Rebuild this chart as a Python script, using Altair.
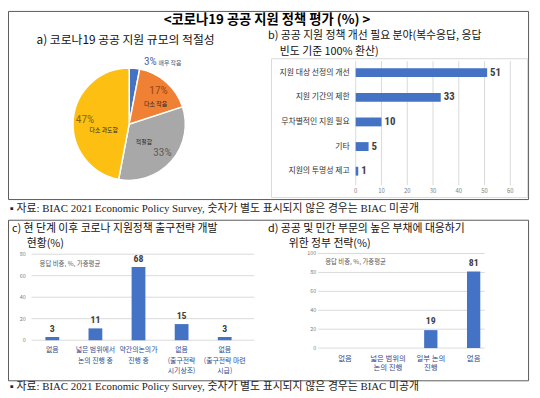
import altair as alt
import pandas as pd

FONT = "Noto Sans CJK KR"
NUM = "Liberation Sans Narrow, Roboto Condensed, DejaVu Sans Condensed, Noto Sans CJK KR"
SERIF = "Liberation Serif, Noto Sans CJK KR"

# ---------------- texts ----------------
title_text = "<코로나19 공공 지원 정책 평가 (%) >"
a_title = "a) 코로나19 공공 지원 규모의 적절성"
b_title = ["b) 공공 지원 정책 개선 필요 분야(복수응답, 응답", "빈도 기준 100% 환산)"]
c_title = ["c) 현 단계 이후 코로나 지원정책 출구전략 개발", "현황(%)"]
d_title = ["d) 공공 및 민간 부문의 높은 부채에 대응하기", "위한 정부 전략(%)"]
note_text = "▪ 자료: BIAC 2021 Economic Policy Survey, 숫자가 별도 표시되지 않은 경우는 BIAC 미공개"
sub_note = "응답 비중, %, 가중평균"

# ---------------- data ----------------
a_cats = ["매우 작음", "다소 작음", "적절함", "다소 과도함"]
a_vals = [3, 17, 33, 47]
a_colors = ["#4472C4", "#EF8034", "#A8A8A8", "#FDBF12"]
a_label_colors = ["#4A66A8", "#9A4814", "#5E5E5E", "#8A680A"]

b_cats = ["지원 대상 선정의 개선", "지원 기간의 제한", "무차별적인 지원 필요", "기타", "지원의 투명성 제고"]
b_vals = [51, 33, 10, 5, 1]
b_ticks = [0, 10, 20, 30, 40, 50, 60]

c_cats = ["없음", "넓은 범위에서\n논의 진행 중", "약간의논의가\n진행 중",
          "없음\n(출구전략\n시기상조)", "없음\n(출구전략 마련\n시급)"]
c_vals = [3, 11, 68, 15, 3]
c_ticks = [0, 20, 40, 60, 80]

d_cats = ["없음", "넓은 범위의\n논의 진행", "일부 논의\n진행", "없음"]
d_vals = [None, None, 19, 81]
d_ticks = [0, 20, 40, 60, 80, 100]

BLUE = "#4472C4"
GRID = "#D9D9D9"
TICK = "#808080"
FRAME = "#5A5A5A"
CATC = "#2F4B8A"

ONE = pd.DataFrame({"z": [0]})
layers = []


def txt(s, x, y, size, color="#111111", font=FONT, weight="normal", align="left"):
    return alt.Chart(ONE).mark_text(
        text=s, align=align, baseline="middle", font=font, fontSize=size,
        fontWeight=weight, color=color
    ).encode(x=alt.value(x), y=alt.value(y))


def frame(x1, y1, x2, y2, color, width=1):
    return alt.Chart(ONE).mark_rect(fillOpacity=0, stroke=color, strokeWidth=width).encode(
        x=alt.value(x1), x2=alt.value(x2), y=alt.value(y1), y2=alt.value(y2))


# ---------------- frames & titles ----------------
layers.append(frame(0.5, 0.5, 528.5, 191.5, FRAME))
layers.append(frame(267.5, 48.5, 527.5, 189.5, GRID))
layers.append(frame(0.5, 212.5, 528.5, 375.5, FRAME))

layers.append(txt(title_text, 263, 9, 13.5, color="#000000", weight="bold", align="center"))
layers.append(txt(a_title, 29, 30, 12))
layers.append(txt(b_title[0], 264, 25.5, 11))
layers.append(txt(b_title[1], 276, 41.5, 11))
layers.append(txt(c_title[0], 4, 221, 11))
layers.append(txt(c_title[1], 19, 237, 11))
layers.append(txt(d_title[0], 264, 221, 11))
layers.append(txt(d_title[1], 285, 237, 11))
layers.append(txt(note_text, 2, 201, 11, color="#222222", font=SERIF))
layers.append(txt(note_text, 2, 382, 11, color="#222222", font=SERIF))
layers.append(txt(sub_note, 32, 257, 6.5, color="#595959"))
layers.append(txt(sub_note, 322, 255, 6.5, color="#595959"))

# ---------------- panel a : pie ----------------
CX, CY, R = 123, 115, 57
a_df = pd.DataFrame({"i": list(range(len(a_cats))), "cat": a_cats, "v": a_vals})
theta = alt.Theta("v:Q", stack=True)
order = alt.Order("i:Q")
a_color = alt.Color("cat:N", scale=alt.Scale(domain=a_cats, range=a_colors), legend=None)
a_lcolor = alt.Color("cat:N", scale=alt.Scale(domain=a_cats, range=a_label_colors), legend=None)

layers.append(alt.Chart(a_df).mark_arc(outerRadius=R, stroke="white", strokeWidth=1.5).encode(
    theta=theta, order=order, color=a_color, x=alt.value(CX), y=alt.value(CY)))

# percent labels (slices 1..3)
layers.append(alt.Chart(a_df).transform_calculate(lbl="datum.v + '%'").mark_text(
    radius=45, font=NUM, fontSize=11.5).encode(
    theta=theta, order=order, color=a_lcolor, x=alt.value(CX), y=alt.value(CY),
    text=alt.condition("datum.i > 0", alt.Text("lbl:N"), alt.value(""))))

# category labels inside slices
offsets = {1: (7, 2.5), 2: (-7.5, -2), 3: (4, 8.5)}
for i, (ddx, ddy) in offsets.items():
    layers.append(alt.Chart(a_df).mark_text(
        radius=30, dx=ddx, dy=ddy, font=FONT, fontSize=6, color="#262626").encode(
        theta=theta, order=order, detail="cat:N", x=alt.value(CX), y=alt.value(CY),
        text=alt.condition(f"datum.i == {i}", alt.Text("cat:N"), alt.value(""))))

# small slice label outside
layers.append(alt.Chart(a_df).transform_calculate(lbl="datum.v + '%'").mark_text(
    radius=63, dx=15.5, font=NUM, fontSize=11.5).encode(
    theta=theta, order=order, color=a_lcolor, x=alt.value(CX), y=alt.value(CY),
    text=alt.condition("datum.i == 0", alt.Text("lbl:N"), alt.value(""))))
layers.append(alt.Chart(a_df).mark_text(
    radius=63, dx=35.5, dy=1, font=FONT, fontSize=6, color="#44546A").encode(
    theta=theta, order=order, detail="cat:N", x=alt.value(CX), y=alt.value(CY),
    text=alt.condition("datum.i == 0", alt.Text("cat:N"), alt.value(""))))

# ---------------- panel b : horizontal bars ----------------
b_df = pd.DataFrame({"k": list(range(len(b_cats))), "cat": b_cats, "v": b_vals})
bt_df = pd.DataFrame({"t": b_ticks})
bx = alt.Scale(domain=[0, 60], range=[353, 510])
by = alt.Scale(domain=list(range(len(b_cats))), range=[50.2, 175.2], paddingInner=0, paddingOuter=0)

layers.append(alt.Chart(bt_df).mark_rule(color=GRID, strokeWidth=1).encode(
    x=alt.X("t:Q", scale=bx, axis=None), y=alt.value(51), y2=alt.value(177)))
layers.append(alt.Chart(bt_df).mark_text(fontSize=6, color=TICK, baseline="middle", font=FONT).encode(
    x=alt.X("t:Q", scale=bx, axis=None), y=alt.value(183), text="t:Q"))
layers.append(alt.Chart(b_df).mark_bar(height=9, color=BLUE).encode(
    x=alt.X("v:Q", scale=bx, axis=None), y=alt.Y("k:O", scale=by, axis=None)))
layers.append(alt.Chart(b_df).mark_text(align="left", dx=3, font=NUM, fontWeight="bold",
                                        fontSize=11, color="#404040").encode(
    x=alt.X("v:Q", scale=bx, axis=None), y=alt.Y("k:O", scale=by, axis=None), text="v:Q"))
layers.append(alt.Chart(b_df).mark_text(align="right", font=FONT, fontSize=8, color="#333333").encode(
    x=alt.value(347), y=alt.Y("k:O", scale=by, axis=None), text="cat:N"))

# ---------------- panel c : vertical bars ----------------
c_df = pd.DataFrame({"k": list(range(len(c_cats))), "cat": c_cats, "v": c_vals})
ct_df = pd.DataFrame({"t": c_ticks})
cy = alt.Scale(domain=[0, 80], range=[334.3, 247])
cx = alt.Scale(domain=list(range(len(c_cats))), range=[23.1, 241.9], paddingInner=0, paddingOuter=0)

layers.append(alt.Chart(ct_df).mark_rule(color=GRID, strokeWidth=1).encode(
    y=alt.Y("t:Q", scale=cy, axis=None), x=alt.value(24), x2=alt.value(250)))
layers.append(alt.Chart(ct_df).mark_text(fontSize=5.5, color=TICK, align="right", baseline="middle",
                                         font=FONT).encode(
    y=alt.Y("t:Q", scale=cy, axis=None), x=alt.value(18), text="t:Q"))
layers.append(alt.Chart(c_df).mark_bar(width=14, color=BLUE).encode(
    x=alt.X("k:O", scale=cx, axis=None), y=alt.Y("v:Q", scale=cy, axis=None)))
layers.append(alt.Chart(c_df).mark_text(baseline="bottom", dy=-3, font=NUM, fontWeight="bold",
                                        fontSize=10, color="#404040").encode(
    x=alt.X("k:O", scale=cx, axis=None), y=alt.Y("v:Q", scale=cy, axis=None), text="v:Q"))
layers.append(alt.Chart(c_df).mark_text(baseline="top", lineBreak="\n", lineHeight=10.5, font=FONT,
                                        fontSize=7, color=CATC).encode(
    x=alt.X("k:O", scale=cx, axis=None), y=alt.value(340.5), text="cat:N"))

# ---------------- panel d : vertical bars ----------------
d_df = pd.DataFrame({"k": list(range(len(d_cats))), "cat": d_cats, "v": d_vals})
d_bar_df = d_df.dropna(subset=["v"])
dt_df = pd.DataFrame({"t": d_ticks})
dy_s = alt.Scale(domain=[0, 100], range=[342.3, 246.3])
dx_s = alt.Scale(domain=list(range(len(d_cats))), range=[320.5, 494.5], paddingInner=0, paddingOuter=0)

layers.append(alt.Chart(dt_df).mark_rule(color=GRID, strokeWidth=1).encode(
    y=alt.Y("t:Q", scale=dy_s, axis=None), x=alt.value(315), x2=alt.value(484)))
layers.append(alt.Chart(dt_df).mark_text(fontSize=5.5, color=TICK, align="right", baseline="middle",
                                         font=FONT).encode(
    y=alt.Y("t:Q", scale=dy_s, axis=None), x=alt.value(313), text="t:Q"))
layers.append(alt.Chart(d_bar_df).mark_bar(width=13.5, color=BLUE).encode(
    x=alt.X("k:O", scale=dx_s, axis=None), y=alt.Y("v:Q", scale=dy_s, axis=None)))
layers.append(alt.Chart(d_bar_df).mark_text(baseline="bottom", dy=-4, font=NUM, fontWeight="bold",
                                            fontSize=10, color="#404040").encode(
    x=alt.X("k:O", scale=dx_s, axis=None), y=alt.Y("v:Q", scale=dy_s, axis=None), text="v:Q"))
layers.append(alt.Chart(d_df).mark_text(baseline="top", lineBreak="\n", lineHeight=10, font=FONT,
                                        fontSize=7.5, color=CATC).encode(
    x=alt.X("k:O", scale=dx_s, axis=None), y=alt.value(349), text="cat:N"))

chart = alt.layer(*layers).resolve_scale(
    x="independent", y="independent", theta="independent", color="independent"
).properties(
    width=532, height=390,
    autosize=alt.AutoSizeParams(type="none"), padding=0, background="white"
).configure_view(strokeWidth=0)

chart.save("out.html", embed_options={"renderer": "svg", "actions": False})
